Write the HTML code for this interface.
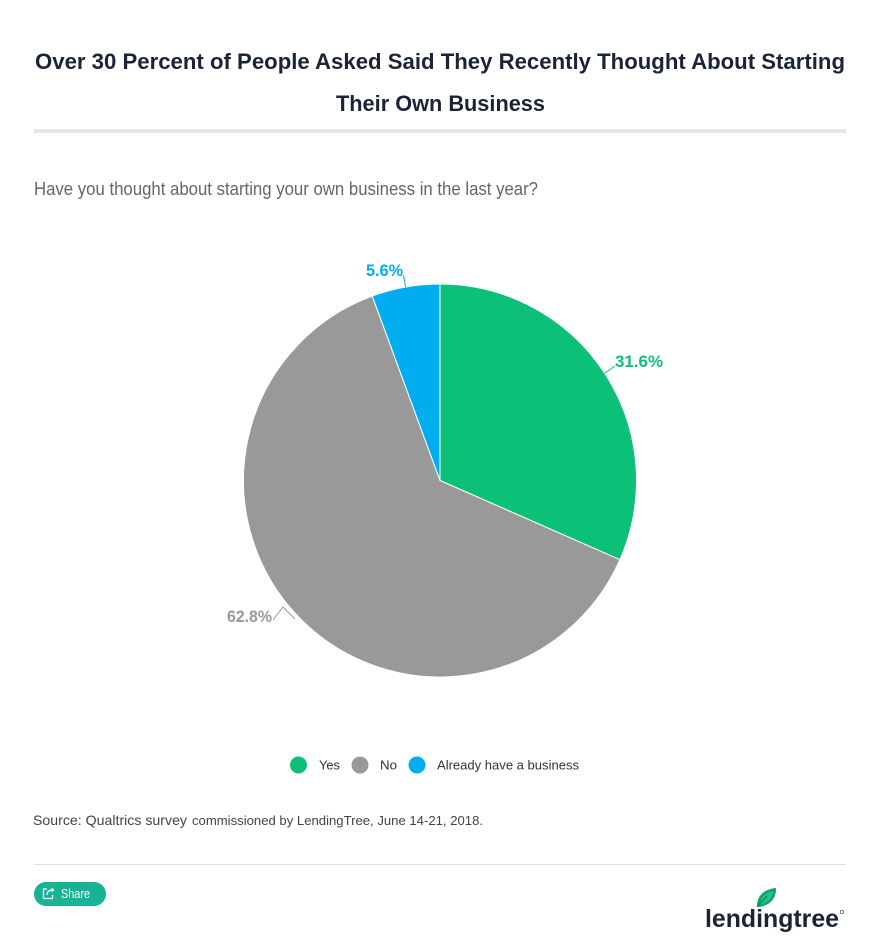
<!DOCTYPE html>
<html>
<head>
<meta charset="utf-8">
<style>
  html, body { margin:0; padding:0; background:#fff; }
  body { width:872px; height:945px; overflow:hidden; }
  svg { display:block; }
  text { font-family: "Liberation Sans", "DejaVu Sans", sans-serif; }
</style>
</head>
<body>
<svg width="872" height="945" viewBox="0 0 872 945" xmlns="http://www.w3.org/2000/svg">
  <rect x="0" y="0" width="872" height="945" fill="#ffffff"/>

  <!-- Title -->
  <text x="35" y="69" font-size="22" font-weight="bold" fill="#1b2436" textLength="810" lengthAdjust="spacingAndGlyphs">Over 30 Percent of People Asked Said They Recently Thought About Starting</text>
  <text x="336" y="111" font-size="22" font-weight="bold" fill="#1b2436" textLength="209" lengthAdjust="spacingAndGlyphs">Their Own Business</text>

  <!-- thick bar under title -->
  <rect x="34" y="129" width="812" height="4" fill="#e6e6e6"/>

  <!-- Subtitle -->
  <text x="34" y="195" font-size="18" fill="#666666" textLength="504" lengthAdjust="spacingAndGlyphs">Have you thought about starting your own business in the last year?</text>

  <!-- Pie -->
  <g stroke="#ffffff" stroke-width="1" stroke-linejoin="round">
    <path d="M440,480.5 L440,284 A196.5,196.5 0 0 1 619.86,559.67 Z" fill="#0cc177"/>
    <path d="M440,480.5 L619.86,559.67 A196.5,196.5 0 1 1 372.27,296.04 Z" fill="#999999"/>
    <path d="M440,480.5 L372.27,296.04 A196.5,196.5 0 0 1 440,284 Z" fill="#00aeef"/>
  </g>

  <!-- Data label connectors -->
  <path d="M604.6,373.2 L615,366" stroke="#0cc177" stroke-width="1" fill="none"/>
  <path d="M405.6,287 L403.5,275" stroke="#00aeef" stroke-width="1" fill="none"/>
  <path d="M273,620 L283,607 L295,619" stroke="#999999" stroke-width="1" fill="none"/>

  <!-- Data labels -->
  <text x="615" y="367" font-size="17" font-weight="bold" fill="#0cc177" textLength="48" lengthAdjust="spacingAndGlyphs">31.6%</text>
  <text x="366" y="276" font-size="17" font-weight="bold" fill="#00aeef" textLength="37" lengthAdjust="spacingAndGlyphs">5.6%</text>
  <text x="227" y="622" font-size="17" font-weight="bold" fill="#999999" textLength="45" lengthAdjust="spacingAndGlyphs">62.8%</text>

  <!-- Legend -->
  <circle cx="298.5" cy="765" r="8.5" fill="#0cc177"/>
  <text x="319" y="769.5" font-size="13" fill="#333333" textLength="21" lengthAdjust="spacingAndGlyphs">Yes</text>
  <circle cx="360" cy="765" r="8.5" fill="#999999"/>
  <text x="380" y="769.5" font-size="13" fill="#333333" textLength="17" lengthAdjust="spacingAndGlyphs">No</text>
  <circle cx="417" cy="765" r="8.5" fill="#00aeef"/>
  <text x="437" y="769.5" font-size="13" fill="#333333" textLength="142" lengthAdjust="spacingAndGlyphs">Already have a business</text>

  <!-- Source -->
  <text x="33" y="825" font-size="14" fill="#444444" textLength="154" lengthAdjust="spacingAndGlyphs">Source: Qualtrics survey</text>
  <text x="192" y="825" font-size="12.5" fill="#444444" textLength="291" lengthAdjust="spacingAndGlyphs">commissioned by LendingTree, June 14-21, 2018.</text>

  <!-- divider -->
  <rect x="34" y="864" width="812" height="1" fill="#e0e0e0"/>

  <!-- Share button -->
  <rect x="34" y="882" width="72" height="24" rx="12" ry="12" fill="#17b394"/>
  <g stroke="#ffffff" stroke-width="1.3" fill="none">
    <path d="M47,889 L43.5,889 L43.5,898.5 L52.5,898.5 L52.5,895"/>
    <path d="M47,895 C47,891.5 49,890 53,890"/>
  </g>
  <path d="M51.5,887.5 L54.5,890 L51.5,892.5 Z" fill="#ffffff"/>
  <text x="61" y="898" font-size="12.5" fill="#ffffff" textLength="29" lengthAdjust="spacingAndGlyphs">Share</text>

  <!-- LendingTree logo -->
  <path d="M757,907 C756.5,896 764,889 776,888 C776.5,899 769,906.5 757,907 Z" fill="#0fa46f"/>
  <path d="M760,904.5 C760.5,897 765.5,892.5 773,891.5 C772.5,898.5 767.5,903.5 760,904.5 Z" fill="#22c482"/>
  <path d="M757,907 L767,896" stroke="#0a8a5c" stroke-width="1.2"/>
  <text x="705" y="927" font-size="25" font-weight="bold" fill="#1b2436" textLength="134" lengthAdjust="spacingAndGlyphs">lendingtree</text>
  <circle cx="842" cy="912" r="1.8" fill="none" stroke="#1b2436" stroke-width="0.6"/>
</svg>
</body>
</html>
